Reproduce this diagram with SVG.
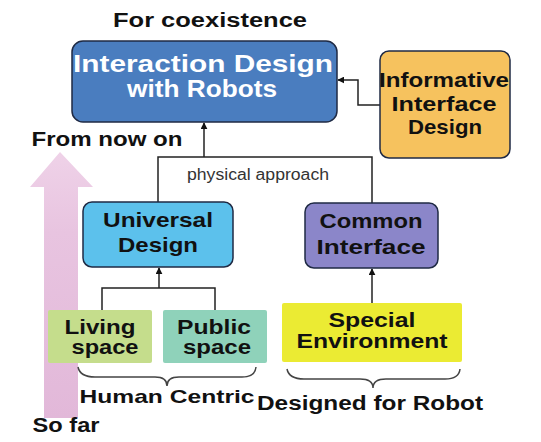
<svg xmlns="http://www.w3.org/2000/svg" width="541" height="442" viewBox="0 0 541 442">
<defs>
<style>
text{font-family:"Liberation Sans",Arial,sans-serif;font-weight:bold;fill:#111;text-anchor:middle}
.w{fill:#fff}
.reg{font-weight:normal;font-size:16px;fill:#333}
.ln{fill:none;stroke:#222;stroke-width:1.5}
.br{fill:none;stroke:#444;stroke-width:1.5}
.box{stroke:#1f2a44;stroke-width:1.5}
</style>
<marker id="ah" viewBox="0 0 10 10" refX="9" refY="5" markerWidth="7" markerHeight="7" orient="auto-start-reverse" markerUnits="userSpaceOnUse">
<path d="M0,0 L10,5 L0,10 z" fill="#111"/>
</marker>
<linearGradient id="pk" x1="0" y1="0" x2="0" y2="1">
<stop offset="0" stop-color="#efd2e8"/>
<stop offset="0.3" stop-color="#e8c4e0"/>
<stop offset="1" stop-color="#e2b8d9"/>
</linearGradient>
</defs>

<g id="timeline">
<path d="M60,152 L93,187 L78,187 L78,418 L44,418 L44,187 L30,187 z" fill="url(#pk)"/>
</g>

<g id="labels">
<text x="210" y="27" font-size="19.5" textLength="194" lengthAdjust="spacingAndGlyphs">For coexistence</text>
<text x="107" y="146" font-size="20" textLength="151" lengthAdjust="spacingAndGlyphs">From now on</text>
<text x="66" y="432" font-size="19.5" textLength="67" lengthAdjust="spacingAndGlyphs">So far</text>
<text x="167" y="403" font-size="19" textLength="175" lengthAdjust="spacingAndGlyphs">Human Centric</text>
<text x="370" y="410" font-size="20" textLength="226" lengthAdjust="spacingAndGlyphs">Designed for Robot</text>
<path class="br" d="M78,367 Q80,377 95,377 L155,377 Q167,377 167,386 Q167,377 179,377 L242,377 Q255,377 256,367"/>
<path class="br" d="M287,369 Q289,379 304,379 L360,379 Q373,379 373,388 Q373,379 386,379 L445,379 Q459,379 460,369"/>
</g>

<g id="connectors">
<path class="ln" d="M204,157 L204,123" marker-end="url(#ah)"/>
<path class="ln" d="M158,202 L158,157 L372,157 L372,203"/>
<path class="ln" d="M380,105 L358,105 L358,80 L338,80" marker-end="url(#ah)"/>
<path class="ln" d="M159,288 L159,268" marker-end="url(#ah)"/>
<path class="ln" d="M102,310 L102,288 L215,288 L215,310"/>
<path class="ln" d="M372,303 L372,269" marker-end="url(#ah)"/>
<text class="reg" x="258" y="180" textLength="142" lengthAdjust="spacingAndGlyphs">physical approach</text>
</g>

<g id="interaction-design">
<rect class="box" x="72" y="41" width="265" height="81" rx="11" fill="#4a7dbf"/>
<text class="w" x="203" y="72" font-size="24" textLength="260" lengthAdjust="spacingAndGlyphs">Interaction Design</text>
<text class="w" x="202" y="97" font-size="24" textLength="150" lengthAdjust="spacingAndGlyphs">with Robots</text>
</g>

<g id="informative-interface-design">
<rect class="box" x="380" y="51" width="130" height="107" rx="9" fill="#f6c25e"/>
<text x="444" y="87" font-size="21" textLength="130" lengthAdjust="spacingAndGlyphs">Informative</text>
<text x="444" y="111" font-size="21" textLength="105" lengthAdjust="spacingAndGlyphs">Interface</text>
<text x="445" y="134" font-size="21" textLength="74" lengthAdjust="spacingAndGlyphs">Design</text>
</g>

<g id="universal-design">
<rect class="box" x="83" y="202" width="150" height="65" rx="9" fill="#5cc1ec"/>
<text x="158" y="227" font-size="20.5" textLength="110" lengthAdjust="spacingAndGlyphs">Universal</text>
<text x="158" y="252" font-size="20.5" textLength="80" lengthAdjust="spacingAndGlyphs">Design</text>
</g>

<g id="common-interface">
<rect class="box" x="305" y="203" width="133" height="65" rx="9" fill="#8b86c9"/>
<text x="371" y="228" font-size="20.5" textLength="103" lengthAdjust="spacingAndGlyphs">Common</text>
<text x="371" y="254" font-size="20.5" textLength="109" lengthAdjust="spacingAndGlyphs">Interface</text>
</g>

<g id="living-space">
<rect x="48" y="310" width="104" height="53" rx="2" fill="#c5dd8c"/>
<text x="100" y="334" font-size="20" textLength="71" lengthAdjust="spacingAndGlyphs">Living</text>
<text x="105" y="354" font-size="20" textLength="67" lengthAdjust="spacingAndGlyphs">space</text>
</g>

<g id="public-space">
<rect x="163" y="310" width="104" height="53" rx="2" fill="#8fd2ba"/>
<text x="214" y="334" font-size="20" textLength="74" lengthAdjust="spacingAndGlyphs">Public</text>
<text x="217" y="354" font-size="20" textLength="68" lengthAdjust="spacingAndGlyphs">space</text>
</g>

<g id="special-environment">
<rect x="282" y="303" width="180" height="59" rx="2" fill="#ebeb33"/>
<text x="372" y="327" font-size="21" textLength="87" lengthAdjust="spacingAndGlyphs">Special</text>
<text x="372" y="348" font-size="21" textLength="151" lengthAdjust="spacingAndGlyphs">Environment</text>
</g>
</svg>
